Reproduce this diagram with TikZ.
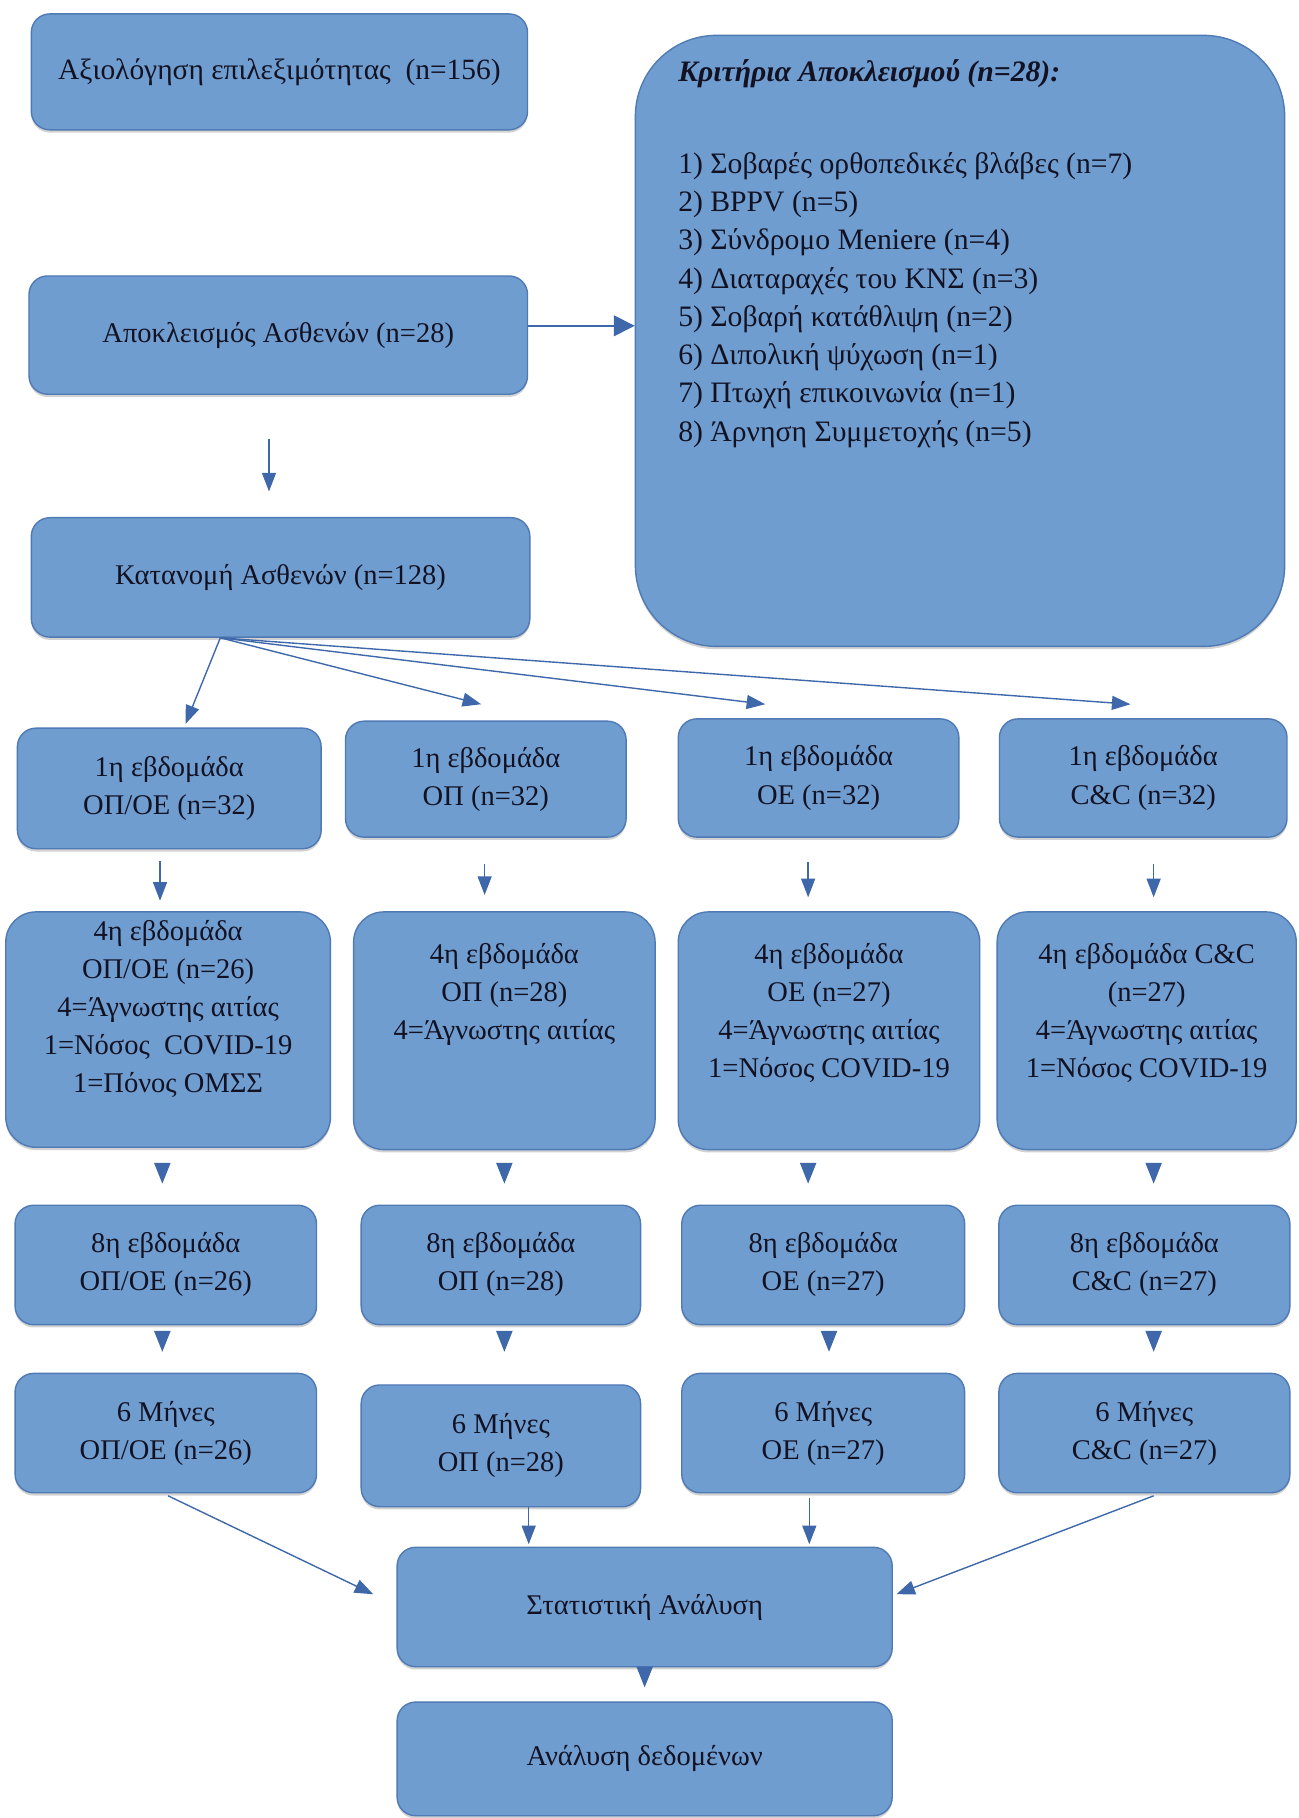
\documentclass[tikz,border=0pt]{standalone}
\usepackage{fontspec}
\setmainfont{Liberation Serif}
\usetikzlibrary{arrows.meta,shadows}
\definecolor{boxfill}{RGB}{112,157,208}
\definecolor{boxline}{RGB}{79,122,180}
\definecolor{arrc}{RGB}{62,104,170}
\definecolor{txt}{RGB}{18,18,35}
\newcommand\rz[2]{\raisebox{#1}[0pt][0pt]{\begin{tabular}{@{}c@{}}#2\end{tabular}}}
\begin{document}
\begin{tikzpicture}[x=0.5pt,y=-0.5pt,
  box/.style={draw=boxline, fill=boxfill, line width=0.6pt, rounded corners=8pt,
    inner sep=0pt, align=center, text=txt, font=\fontsize{12.3}{16.4}\selectfont,
    drop shadow={shadow xshift=0pt, shadow yshift=-1.2pt, opacity=0.35}},
  arr/.style={draw=arrc, line width=0.6pt, -{Triangle[width=6pt,length=8pt]}},
  bigarr/.style={draw=arrc, line width=0.6pt, -{Triangle[width=9pt,length=9pt]}},
  tri/.style={draw=arrc, line width=0.6pt, -{Triangle[width=7pt,length=9pt]}}]
\useasboundingbox (0,0) rectangle (1120,1568);
\fill[white] (0,0) rectangle (1120,1568);

\node[box, minimum width=214pt, minimum height=50pt, font=\fontsize{12.7}{16.4}\selectfont] (A) at (241,62) {Αξιολόγηση επιλεξιμότητας\ \ (n=156)};

\node[box, rounded corners=35pt, minimum width=280pt, minimum height=263.5pt, font=\fontsize{12.8}{16.5}\selectfont] (K) at (828,294)
{\begin{minipage}[c][263.5pt][t]{280pt}\raggedright\leftskip=18.5pt
\rule{0pt}{20pt}\textbf{\textit{Κριτήρια Αποκλεισμού (n=28):}}\\[23pt]
1) Σοβαρές ορθοπεδικές βλάβες (n=7)\\
2) BPPV (n=5)\\
3) Σύνδρομο Meniere (n=4)\\
4) Διαταραχές του ΚΝΣ (n=3)\\
5) Σοβαρή κατάθλιψη (n=2)\\
6) Διπολική ψύχωση (n=1)\\
7) Πτωχή επικοινωνία (n=1)\\
8) Άρνηση Συμμετοχής (n=5)
\end{minipage}};

\node[box, minimum width=215pt, minimum height=51pt] (B) at (240,289) {Αποκλεισμός Ασθενών (n=28)};
\node[box, minimum width=215pt, minimum height=51.5pt] (C) at (242,498) {Κατανομή Ασθενών (n=128)};

\node[box, minimum width=131pt, minimum height=52pt] (W1a) at (146,680) {1η εβδομάδα\\ΟΠ/ΟΕ (n=32)};
\node[box, minimum width=121pt, minimum height=50pt] (W1b) at (419,672) {1η εβδομάδα\\ΟΠ (n=32)};
\node[box, minimum width=121pt, minimum height=51pt] (W1c) at (706,671) {1η εβδομάδα\\ΟΕ (n=32)};
\node[box, minimum width=124pt, minimum height=51pt] (W1d) at (986,671) {1η εβδομάδα\\C\&C (n=32)};

\node[box, rounded corners=13pt, minimum width=140pt, minimum height=101.5pt] (W4a) at (145,888)
  {\rz{5.8pt}{4η εβδομάδα\\ΟΠ/ΟΕ (n=26)\\4=Άγνωστης αιτίας\\1=Νόσος\ \ COVID-19\\1=Πόνος ΟΜΣΣ}};
\node[box, rounded corners=13pt, minimum width=130pt, minimum height=102.5pt] (W4b) at (435,889)
  {\rz{12.8pt}{4η εβδομάδα\\ΟΠ (n=28)\\4=Άγνωστης αιτίας}};
\node[box, rounded corners=13pt, minimum width=130pt, minimum height=102.5pt] (W4c) at (715,889)
  {\rz{4.8pt}{4η εβδομάδα\\ΟΕ (n=27)\\4=Άγνωστης αιτίας\\1=Νόσος COVID-19}};
\node[box, rounded corners=13pt, minimum width=129pt, minimum height=102.5pt] (W4d) at (989,889)
  {\rz{4.8pt}{4η εβδομάδα C\&C\\(n=27)\\4=Άγνωστης αιτίας\\1=Νόσος COVID-19}};

\node[box, minimum width=130pt, minimum height=51.5pt] (W8a) at (143,1091) {8η εβδομάδα\\ΟΠ/ΟΕ (n=26)};
\node[box, minimum width=120.5pt, minimum height=51.5pt] (W8b) at (432,1091) {8η εβδομάδα\\ΟΠ (n=28)};
\node[box, minimum width=122pt, minimum height=51.5pt] (W8c) at (710,1091) {8η εβδομάδα\\ΟΕ (n=27)};
\node[box, minimum width=125.5pt, minimum height=51.5pt] (W8d) at (987,1091) {8η εβδομάδα\\C\&C (n=27)};

\node[box, minimum width=130pt, minimum height=51.5pt] (M6a) at (143,1236) {6 Μήνες\\ΟΠ/ΟΕ (n=26)};
\node[box, minimum width=120.5pt, minimum height=52.5pt] (M6b) at (432,1247) {6 Μήνες\\ΟΠ (n=28)};
\node[box, minimum width=122pt, minimum height=51.5pt] (M6c) at (710,1236) {6 Μήνες\\ΟΕ (n=27)};
\node[box, minimum width=125.5pt, minimum height=51.5pt] (M6d) at (987,1236) {6 Μήνες\\C\&C (n=27)};

\node[box, minimum width=213.5pt, minimum height=51.5pt] (S) at (556,1386) {Στατιστική Ανάλυση};
\node[box, minimum width=213.5pt, minimum height=49pt] (F) at (556,1517) {Ανάλυση δεδομένων};

% connectors
\draw[bigarr] ([yshift=4pt]B.east) -- ([yshift=4pt]B.east -| K.west);
\draw[arr] ([shift={(-4pt,-19pt)}]B.south) -- ([shift={(-5pt,11pt)}]C.north);

\draw[arr] ([xshift=-26pt]C.south) -- ([shift={(7pt,1.5pt)}]W1a.north);
\draw[arr] ([xshift=-26pt]C.south) -- ([shift={(-2pt,7pt)}]W1b.north);
\draw[arr] ([xshift=-26pt]C.south) -- ([shift={(-23pt,6pt)}]W1c.north);
\draw[arr] ([xshift=-26pt]C.south) -- ([shift={(-5.5pt,6pt)}]W1d.north);

\draw[arr] ([shift={(-4pt,-5pt)}]W1a.south) -- ([shift={(-3.5pt,4.5pt)}]W4a.north);
\draw[arr] ([shift={(-0.5pt,-11.5pt)}]W1b.south) -- ([shift={(-8.5pt,7pt)}]W4b.north);
\draw[arr] ([shift={(-4.5pt,-10.5pt)}]W1c.south) -- ([shift={(-9pt,6pt)}]W4c.north);
\draw[arr] ([shift={(4.5pt,-11.5pt)}]W1d.south) -- ([shift={(3pt,6pt)}]W4d.north);

\draw[tri] ([shift={(-2.5pt,-6.5pt)}]W4a.south) -- ([shift={(-1.5pt,9pt)}]W8a.north);
\draw[tri] ([shift={(0pt,-6.5pt)}]W4b.south) -- ([shift={(1.5pt,9pt)}]W8b.north);
\draw[tri] ([shift={(-9pt,-6.5pt)}]W4c.south) -- ([shift={(-6.5pt,9pt)}]W8c.north);
\draw[tri] ([shift={(3pt,-6.5pt)}]W4d.south) -- ([shift={(4pt,9pt)}]W8d.north);

\draw[tri] ([shift={(-1.5pt,-3.5pt)}]W8a.south) -- ([shift={(-1.5pt,9pt)}]M6a.north);
\draw[tri] ([shift={(1.5pt,-3.5pt)}]W8b.south) -- ([shift={(1.5pt,14pt)}]M6b.north);
\draw[tri] ([shift={(2.5pt,-3.5pt)}]W8c.south) -- ([shift={(2.5pt,9pt)}]M6c.north);
\draw[tri] ([shift={(4pt,-3.5pt)}]W8d.south) -- ([shift={(4pt,9pt)}]M6d.north);

\draw[arr] ([shift={(1pt,-1pt)}]M6a.south) -- ([shift={(-10pt,5.5pt)}]S.west);
\draw[arr] ([xshift=12pt]M6b.south) -- ([shift={(-50pt,1pt)}]S.north);
\draw[arr] ([shift={(-6pt,-2pt)}]M6c.south) -- ([shift={(71pt,1pt)}]S.north);
\draw[arr] ([shift={(4pt,-1pt)}]M6d.south) -- ([shift={(1.5pt,5.5pt)}]S.east);

\draw[tri] ([yshift=-1pt]S.south) -- ([yshift=6pt]F.north);
\end{tikzpicture}
\end{document}
